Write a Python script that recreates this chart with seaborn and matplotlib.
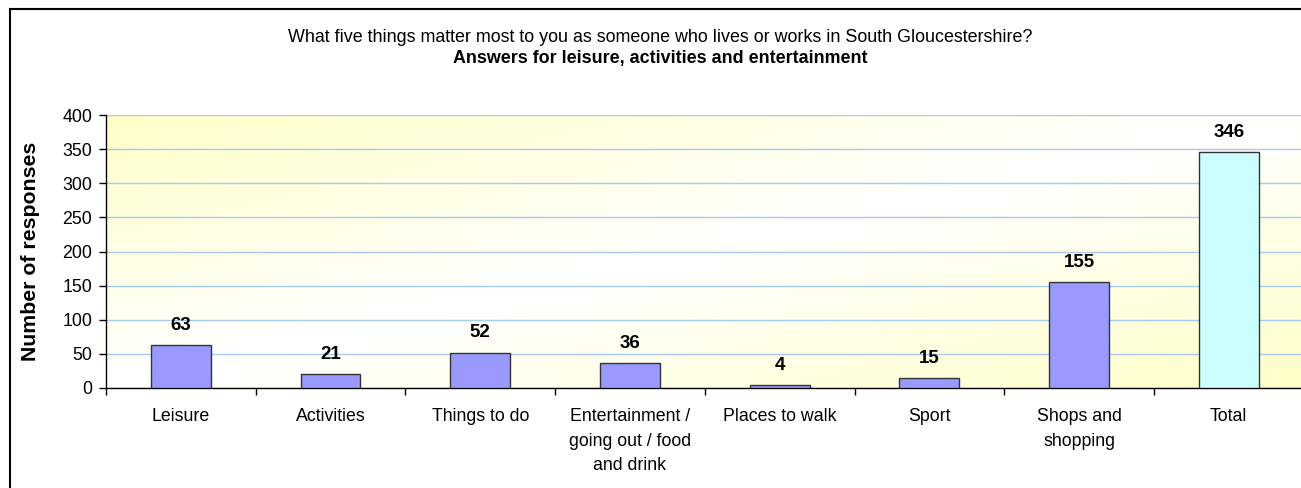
import numpy as np
import pandas as pd
import matplotlib
matplotlib.use("Agg")
import matplotlib.pyplot as plt
from matplotlib.patches import Rectangle
from matplotlib.colors import LinearSegmentedColormap
import seaborn as sns

categories = ["Leisure", "Activities", "Things to do",
              "Entertainment /\ngoing out / food\nand drink",
              "Places to walk", "Sport", "Shops and\nshopping", "Total"]
values = [63, 21, 52, 36, 4, 15, 155, 346]
bar_colors = ["#9999FF"] * 7 + ["#CCFFFF"]
yticks = [0, 50, 100, 150, 200, 250, 300, 350, 400]
title1 = "What five things matter most to you as someone who lives or works in South Gloucestershire?"
title2 = "Answers for leisure, activities and entertainment"
ylabel = "Number of responses"

sns.set_theme(style="white")
plt.rcParams['font.family'] = ['Liberation Sans', 'DejaVu Sans']
plt.rcParams['text.color'] = 'black'
plt.rcParams['axes.labelcolor'] = 'black'
plt.rcParams['xtick.color'] = 'black'
plt.rcParams['ytick.color'] = 'black'

fig = plt.figure(figsize=(13.01, 4.88), dpi=100)
ax = fig.add_axes([106/1301, 100/488, 1 - 106/1301 + 0.002, (388-115)/488])

# background gradient (yellow at top-left and bottom-right, white on the other diagonal)
u = np.linspace(0, 1, 300)
v = np.linspace(1, 0, 120)
U, V = np.meshgrid(u, v)
S = np.abs(U - V)
cmap = LinearSegmentedColormap.from_list("bg", ["#FFFFFF", "#FFFFC8"])
ax.imshow(S, cmap=cmap, extent=[0, 1, 0, 1], transform=ax.transAxes,
          aspect="auto", zorder=0, vmin=0, vmax=1)

df = pd.DataFrame({"cat": categories, "val": values})
sns.barplot(data=df, x="cat", y="val", hue="cat", palette=bar_colors,
            legend=False, width=0.4, edgecolor="#333333", linewidth=1,
            ax=ax, zorder=3, saturation=1)

ax.set_xlim(-0.5, len(categories) - 0.5)
ax.set_ylim(0, 400)
ax.set_yticks(yticks)
ax.yaxis.grid(True, color="#A6CAF0", linewidth=1, zorder=1)
ax.set_axisbelow(True)

for i, val in enumerate(values):
    ax.annotate(str(val), (i, val), xytext=(0, 8), textcoords="offset points",
                ha="center", va="bottom", fontsize=13.5, fontweight="bold",
                color="black", zorder=4)

# ticks
ax.set_xticks(range(len(categories)))
ax.set_xticklabels(categories, fontsize=12.8, linespacing=1.58)
ax.set_xticks(np.arange(-0.5, len(categories), 1), minor=True)
ax.tick_params(axis="x", which="major", length=0, pad=14.5)
ax.tick_params(axis="x", which="minor", length=5, width=1, color="black", direction="out", bottom=True)
ax.tick_params(axis="y", which="major", length=5, width=1, color="black", direction="out", pad=5,
               labelsize=12.8, left=True)
for lab in ax.get_xticklabels():
    lab.set_va("top")

ax.set_xlabel("")
ax.set_ylabel(ylabel, fontsize=15.3, fontweight="bold", color="black")
ax.yaxis.set_label_coords(-0.055, 0.5)

for side in ["top", "right"]:
    ax.spines[side].set_visible(False)
ax.spines["left"].set_color("black")
ax.spines["bottom"].set_color("black")
ax.spines["left"].set_linewidth(1)
ax.spines["bottom"].set_linewidth(1)

fig.text(660/1301, 1 - 37/488, title1, ha="center", va="center", fontsize=12.9, color="black")
fig.text(660/1301, 1 - 59/488, title2, ha="center", va="center", fontsize=12.9,
         fontweight="bold", color="black")

# outer frame
fig.patches.append(Rectangle((9.5/1301, -0.1), 2, 1.1 - 9/488, transform=fig.transFigure,
                             fill=False, edgecolor="black", linewidth=1.5, zorder=10))

fig.savefig("out.png", dpi=100)
